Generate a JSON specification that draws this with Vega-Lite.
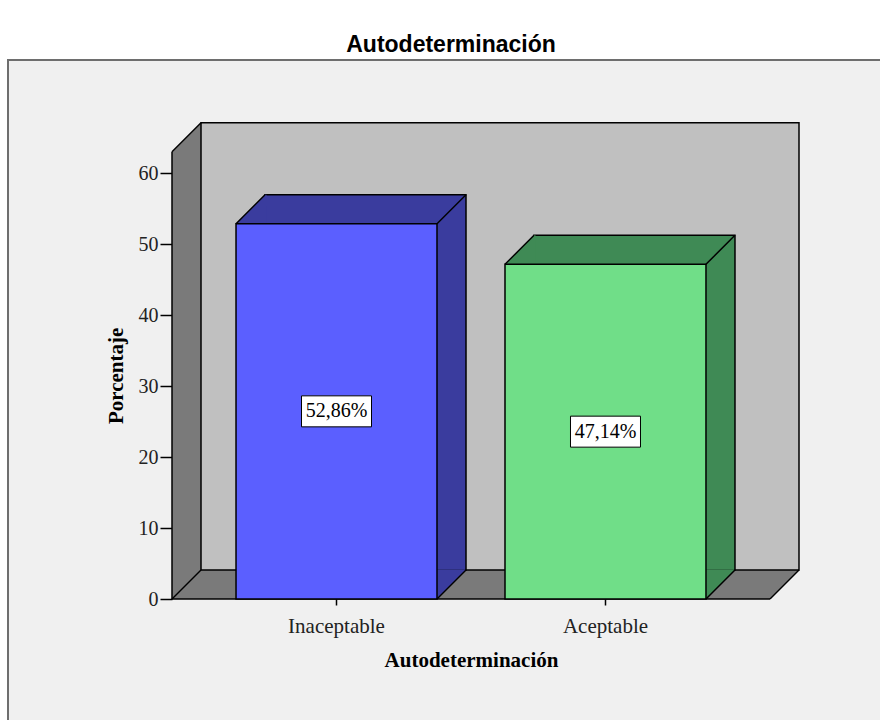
{
  "$schema": "https://vega.github.io/schema/vega-lite/v6.json",
  "width": 882,
  "height": 670,
  "autosize": {"type": "none"},
  "padding": {"left": 8, "top": 60, "right": -10, "bottom": -10},
  "background": "white",
  "config": {"view": {"fill": "#f0f0f0", "stroke": "#6e6e6e", "strokeWidth": 2}},
  "title": {"text": "Autodeterminación", "font": "Liberation Sans", "fontSize": 23, "fontWeight": "bold", "color": "#000000", "anchor": "middle", "frame": "group", "offset": 8, "baseline": "alphabetic", "dx": 2, "dy": 23},
  "resolve": {"scale": {"x": "independent"}, "axis": {"x": "independent", "y": "independent"}},
  "layer": [
    {
      "data": {"values": [{"k": 1}]},
      "layer": [
        {
          "mark": {"type": "rect", "fill": "#7a7a7a", "x2Offset": 29, "y2Offset": -29},
          "encoding": {
            "x": {"datum": 0, "type": "quantitative", "scale": {"domain": [0, 1], "range": [164, 762]}, "axis": null},
            "x2": {"datum": 0},
            "y": {"datum": 0, "type": "quantitative", "scale": {"domain": [0, 63], "range": [539, 91.7], "nice": false, "zero": true}, "axis": null},
            "y2": {"datum": 63}
          }
        },
        {
          "mark": {"type": "rect", "fill": "#7a7a7a", "x2Offset": 29, "y2Offset": -29},
          "encoding": {
            "x": {"datum": 0, "type": "quantitative", "scale": {"domain": [0, 1], "range": [164, 762]}, "axis": null},
            "x2": {"datum": 1},
            "y": {"datum": 0, "type": "quantitative", "scale": {"domain": [0, 63], "range": [539, 91.7], "nice": false, "zero": true}, "axis": null},
            "y2": {"datum": 0}
          }
        },
        {
          "mark": {"type": "point", "shape": "M -1 1 L -1 -30 L 30 -30 Z", "size": 4, "filled": true, "fill": "#f0f0f0", "strokeWidth": 0, "opacity": 1},
          "encoding": {
            "x": {"datum": 0, "type": "quantitative", "scale": {"domain": [0, 1], "range": [164, 762]}, "axis": null},
            "y": {"datum": 63, "type": "quantitative", "scale": {"domain": [0, 63], "range": [539, 91.7], "nice": false, "zero": true}, "axis": null}
          }
        },
        {
          "mark": {"type": "point", "shape": "M -1 1 L 30 1 L 30 -30 Z", "size": 4, "filled": true, "fill": "#f0f0f0", "strokeWidth": 0, "opacity": 1},
          "encoding": {
            "x": {"datum": 1, "type": "quantitative", "scale": {"domain": [0, 1], "range": [164, 762]}, "axis": null},
            "y": {"datum": 0, "type": "quantitative", "scale": {"domain": [0, 63], "range": [539, 91.7], "nice": false, "zero": true}, "axis": null}
          }
        },
        {
          "mark": {"type": "rect", "fill": "#c0c0c0", "stroke": "#000000", "strokeWidth": 1.5, "xOffset": 29, "x2Offset": 29, "yOffset": -29, "y2Offset": -29},
          "encoding": {
            "x": {"datum": 0, "type": "quantitative", "scale": {"domain": [0, 1], "range": [164, 762]}, "axis": null},
            "x2": {"datum": 1},
            "y": {"datum": 0, "type": "quantitative", "scale": {"domain": [0, 63], "range": [539, 91.7], "nice": false, "zero": true}, "axis": null},
            "y2": {"datum": 63}
          }
        },
        {
          "mark": {"type": "rule", "stroke": "#000000", "strokeWidth": 1.5},
          "encoding": {
            "x": {"datum": 0, "type": "quantitative", "scale": {"domain": [0, 1], "range": [164, 762]}, "axis": null},
            "y": {"datum": 0, "type": "quantitative", "scale": {"domain": [0, 63], "range": [539, 91.7], "nice": false, "zero": true}, "axis": null},
            "y2": {"datum": 63}
          }
        },
        {
          "mark": {"type": "rule", "stroke": "#000000", "strokeWidth": 1.5},
          "encoding": {
            "x": {"datum": 0, "type": "quantitative", "scale": {"domain": [0, 1], "range": [164, 762]}, "axis": null},
            "x2": {"datum": 1},
            "y": {"datum": 0, "type": "quantitative", "scale": {"domain": [0, 63], "range": [539, 91.7], "nice": false, "zero": true}, "axis": null}
          }
        },
        {
          "mark": {"type": "rule", "stroke": "#000000", "strokeWidth": 1.5, "x2Offset": 29, "y2Offset": -29},
          "encoding": {
            "x": {"datum": 0, "type": "quantitative", "scale": {"domain": [0, 1], "range": [164, 762]}, "axis": null},
            "x2": {"datum": 0},
            "y": {"datum": 63, "type": "quantitative", "scale": {"domain": [0, 63], "range": [539, 91.7], "nice": false, "zero": true}, "axis": null},
            "y2": {"datum": 63}
          }
        },
        {
          "mark": {"type": "rule", "stroke": "#000000", "strokeWidth": 1.5, "x2Offset": 29, "y2Offset": -29},
          "encoding": {
            "x": {"datum": 0, "type": "quantitative", "scale": {"domain": [0, 1], "range": [164, 762]}, "axis": null},
            "x2": {"datum": 0},
            "y": {"datum": 0, "type": "quantitative", "scale": {"domain": [0, 63], "range": [539, 91.7], "nice": false, "zero": true}, "axis": null},
            "y2": {"datum": 0}
          }
        },
        {
          "mark": {"type": "rule", "stroke": "#000000", "strokeWidth": 1.5, "x2Offset": 29, "y2Offset": -29},
          "encoding": {
            "x": {"datum": 1, "type": "quantitative", "scale": {"domain": [0, 1], "range": [164, 762]}, "axis": null},
            "x2": {"datum": 1},
            "y": {"datum": 0, "type": "quantitative", "scale": {"domain": [0, 63], "range": [539, 91.7], "nice": false, "zero": true}, "axis": null},
            "y2": {"datum": 0}
          }
        }
      ]
    },
    {
      "data": {"values": [
        {"cat": "Inaceptable", "pct": 52.86, "label": "52,86%"},
        {"cat": "Aceptable", "pct": 47.14, "label": "47,14%"}
      ]},
      "transform": [{"calculate": "datum.pct / 2", "as": "mid"}],
      "resolve": {"scale": {"color": "independent"}},
      "layer": [
        {
          "mark": {"type": "bar", "stroke": "#000000", "strokeWidth": 1.5, "xOffset": 29, "x2Offset": 29, "yOffset": -29, "y2Offset": -29},
          "encoding": {
            "x": {"field": "cat", "type": "nominal", "title": "Autodeterminación", "scale": {"domain": ["Inaceptable", "Aceptable"], "range": [164, 762], "paddingInner": 0.2528, "paddingOuter": 0.238}, "axis": {"orient": "bottom", "offset": -131, "domain": false, "grid": false, "ticks": true, "tickSize": 6, "tickColor": "#000000", "tickWidth": 1.5, "labelAngle": 0, "labelFont": "Liberation Serif", "labelFontSize": 21, "labelColor": "#222222", "labelPadding": 10, "titleFont": "Liberation Serif", "titleFontSize": 21, "titleFontWeight": "bold", "titleColor": "#000000", "titlePadding": 13}},
            "y": {"field": "pct", "type": "quantitative", "title": "Porcentaje", "scale": {"domain": [0, 63], "range": [539, 91.7], "nice": false, "zero": true}, "axis": {"orient": "left", "offset": -164, "values": [0, 10, 20, 30, 40, 50, 60], "domain": false, "grid": false, "ticks": true, "tickSize": 12, "tickColor": "#000000", "tickWidth": 1.5, "labelFont": "Liberation Serif", "labelFontSize": 20, "labelColor": "#222222", "labelPadding": 2, "titleFont": "Liberation Serif", "titleFontSize": 21, "titleFontWeight": "bold", "titleColor": "#000000", "titlePadding": 12}},
            "color": {"field": "cat", "type": "nominal", "scale": {"domain": ["Inaceptable", "Aceptable"], "range": ["#3a3c9e", "#3f8a55"]}, "legend": null}
          }
        },
        {
          "mark": {"type": "point", "shape": "M 0 0 L 29 -29 L 30.5 -29 L 30.5 0 Z", "size": 4, "filled": true, "strokeWidth": 0, "opacity": 1},
          "encoding": {
            "x": {"field": "cat", "type": "nominal", "bandPosition": 0, "title": "Autodeterminación", "scale": {"domain": ["Inaceptable", "Aceptable"], "range": [164, 762], "paddingInner": 0.2528, "paddingOuter": 0.238}},
            "y": {"field": "pct", "type": "quantitative", "title": "Porcentaje", "scale": {"domain": [0, 63], "range": [539, 91.7], "nice": false, "zero": true}},
            "color": {"field": "cat", "type": "nominal", "scale": {"domain": ["Inaceptable", "Aceptable"], "range": ["#3a3c9e", "#3f8a55"]}, "legend": null}
          }
        },
        {
          "mark": {"type": "point", "shape": "M 0 0 L 0 -29.8 L 28.2 -29.8 L 28.2 -28.2 Z", "size": 4, "filled": true, "strokeWidth": 0, "opacity": 1},
          "encoding": {
            "x": {"field": "cat", "type": "nominal", "bandPosition": 1, "title": "Autodeterminación", "scale": {"domain": ["Inaceptable", "Aceptable"], "range": [164, 762], "paddingInner": 0.2528, "paddingOuter": 0.238}},
            "y": {"datum": 0, "type": "quantitative", "title": "Porcentaje", "scale": {"domain": [0, 63], "range": [539, 91.7], "nice": false, "zero": true}},
            "color": {"field": "cat", "type": "nominal", "scale": {"domain": ["Inaceptable", "Aceptable"], "range": ["#3a3c9e", "#3f8a55"]}, "legend": null}
          }
        },
        {
          "mark": {"type": "bar", "stroke": "#000000", "strokeWidth": 1.5},
          "encoding": {
            "x": {"field": "cat", "type": "nominal", "title": "Autodeterminación", "scale": {"domain": ["Inaceptable", "Aceptable"], "range": [164, 762], "paddingInner": 0.2528, "paddingOuter": 0.238}},
            "y": {"field": "pct", "type": "quantitative", "title": "Porcentaje", "scale": {"domain": [0, 63], "range": [539, 91.7], "nice": false, "zero": true}},
            "color": {"field": "cat", "type": "nominal", "scale": {"domain": ["Inaceptable", "Aceptable"], "range": ["#5b5fff", "#70de88"]}, "legend": null}
          }
        },
        {
          "mark": {"type": "point", "shape": "M 0 0 L 29 -29", "size": 4, "filled": false, "stroke": "#000000", "strokeWidth": 1.5, "opacity": 1},
          "encoding": {
            "x": {"field": "cat", "type": "nominal", "bandPosition": 0, "title": "Autodeterminación", "scale": {"domain": ["Inaceptable", "Aceptable"], "range": [164, 762], "paddingInner": 0.2528, "paddingOuter": 0.238}},
            "y": {"field": "pct", "type": "quantitative", "title": "Porcentaje", "scale": {"domain": [0, 63], "range": [539, 91.7], "nice": false, "zero": true}}
          }
        },
        {
          "mark": {"type": "point", "shape": "M 0 0 L 29 -29", "size": 4, "filled": false, "stroke": "#000000", "strokeWidth": 1.5, "opacity": 1},
          "encoding": {
            "x": {"field": "cat", "type": "nominal", "bandPosition": 1, "title": "Autodeterminación", "scale": {"domain": ["Inaceptable", "Aceptable"], "range": [164, 762], "paddingInner": 0.2528, "paddingOuter": 0.238}},
            "y": {"field": "pct", "type": "quantitative", "title": "Porcentaje", "scale": {"domain": [0, 63], "range": [539, 91.7], "nice": false, "zero": true}}
          }
        },
        {
          "mark": {"type": "point", "shape": "M 0 0 L 29 -29", "size": 4, "filled": false, "stroke": "#000000", "strokeWidth": 1.5, "opacity": 1},
          "encoding": {
            "x": {"field": "cat", "type": "nominal", "bandPosition": 1, "title": "Autodeterminación", "scale": {"domain": ["Inaceptable", "Aceptable"], "range": [164, 762], "paddingInner": 0.2528, "paddingOuter": 0.238}},
            "y": {"datum": 0, "type": "quantitative", "title": "Porcentaje", "scale": {"domain": [0, 63], "range": [539, 91.7], "nice": false, "zero": true}}
          }
        },
        {
          "mark": {"type": "point", "shape": "M -35 -15.5 L 35 -15.5 L 35 15.5 L -35 15.5 Z", "size": 4, "filled": true, "fill": "#ffffff", "stroke": "#000000", "strokeWidth": 1, "opacity": 1},
          "encoding": {
            "x": {"field": "cat", "type": "nominal", "title": "Autodeterminación", "scale": {"domain": ["Inaceptable", "Aceptable"], "range": [164, 762], "paddingInner": 0.2528, "paddingOuter": 0.238}},
            "y": {"field": "mid", "type": "quantitative", "title": "Porcentaje", "scale": {"domain": [0, 63], "range": [539, 91.7], "nice": false, "zero": true}}
          }
        },
        {
          "mark": {"type": "text", "font": "Liberation Serif", "fontSize": 20, "color": "#000000", "align": "center", "baseline": "middle"},
          "encoding": {
            "x": {"field": "cat", "type": "nominal", "title": "Autodeterminación", "scale": {"domain": ["Inaceptable", "Aceptable"], "range": [164, 762], "paddingInner": 0.2528, "paddingOuter": 0.238}},
            "y": {"field": "mid", "type": "quantitative", "title": "Porcentaje", "scale": {"domain": [0, 63], "range": [539, 91.7], "nice": false, "zero": true}},
            "text": {"field": "label", "type": "nominal"}
          }
        }
      ]
    }
  ]
}
